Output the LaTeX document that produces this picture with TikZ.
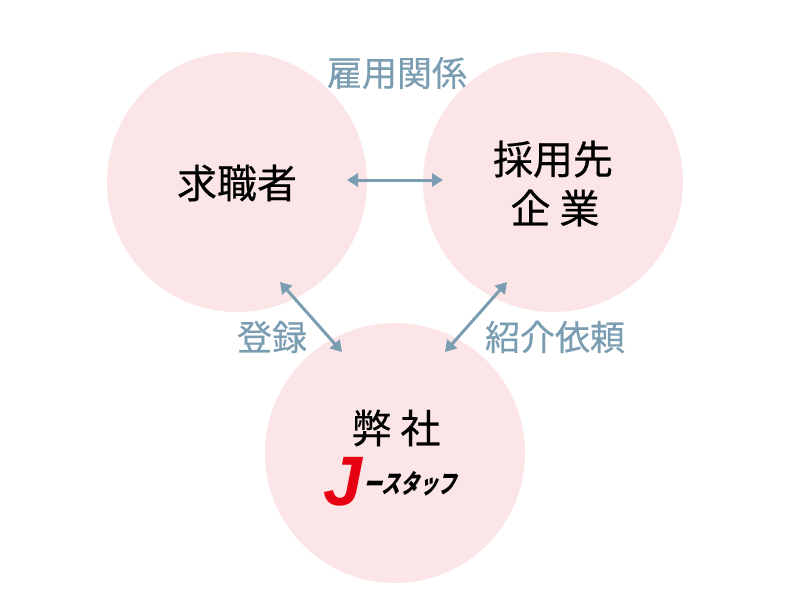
\documentclass[tikz,border=0pt]{standalone}
\usepackage{fontspec}
\usepackage{tikz}
\usetikzlibrary{arrows.meta, positioning}
\newfontfamily\jp{Noto Sans CJK JP}[FakeBold=0.4]
\newfontfamily\jplogo{Noto Sans CJK JP}[FakeSlant=0.25, FakeStretch=0.72]
\newfontfamily\latinlogo{Liberation Sans}
\definecolor{circlepink}{RGB}{251,229,230}
\definecolor{linkblue}{RGB}{122,157,178}
\definecolor{logored}{RGB}{230,0,18}

\begin{document}
\begin{tikzpicture}[x=1pt, y=-1pt,
        party/.style={circle, fill=circlepink, minimum size=260pt, inner sep=0pt},
        partytext/.style={font=\jp\fontsize{40}{50}\selectfont},
        link/.style={draw=linkblue, line width=3pt, {Triangle[length=11pt,width=13pt]}-{Triangle[length=11pt,width=13pt]}},
        linklabel/.style={text=linkblue, font=\jp\fontsize{35}{40}\selectfont, inner sep=0pt}
    ]
    \useasboundingbox (0,0) rectangle (800,600);

    % the three parties
    \node[party] (seeker) at (237,182) {};
    \node[party] (employer) at (553,182) {};
    \node[party] (agency) at (395,453) {};

    \node[partytext] (seekertext) at (237,183) {求職者};
    \node[partytext] (employertext1) at (553,159) {採用先};
    \node[partytext] (employertext2) at (555,208) {企 業};
    \node[partytext] (agencytext) at (396,428) {弊 社};

    % logo
    \node[text=logored, font=\latinlogo\bfseries\itshape\fontsize{70}{70}\selectfont, inner sep=0pt] (logoj) at (343,482) {J};
    \node[font=\jplogo\bfseries\fontsize{26}{26}\selectfont, inner sep=0pt, right=1pt of logoj.east, yshift=-2pt] (logokana) {ースタッフ};

    % connectors
    \coordinate (h1) at (347,180);
    \coordinate (h2) at (443,180);
    \coordinate (l1) at (280,282);
    \coordinate (l2) at (342,352);
    \coordinate (r1) at (507,282);
    \coordinate (r2) at (445,352);
    \draw[link] (h1) -- (h2);
    \draw[link] (l1) -- (l2);
    \draw[link] (r1) -- (r2);

    \node[linklabel] (hire) at (397,73) {雇用関係};
    \node[linklabel] (register) at (272,337) {登録};
    \node[linklabel] (request) at (555,337) {紹介依頼};
\end{tikzpicture}
\end{document}
